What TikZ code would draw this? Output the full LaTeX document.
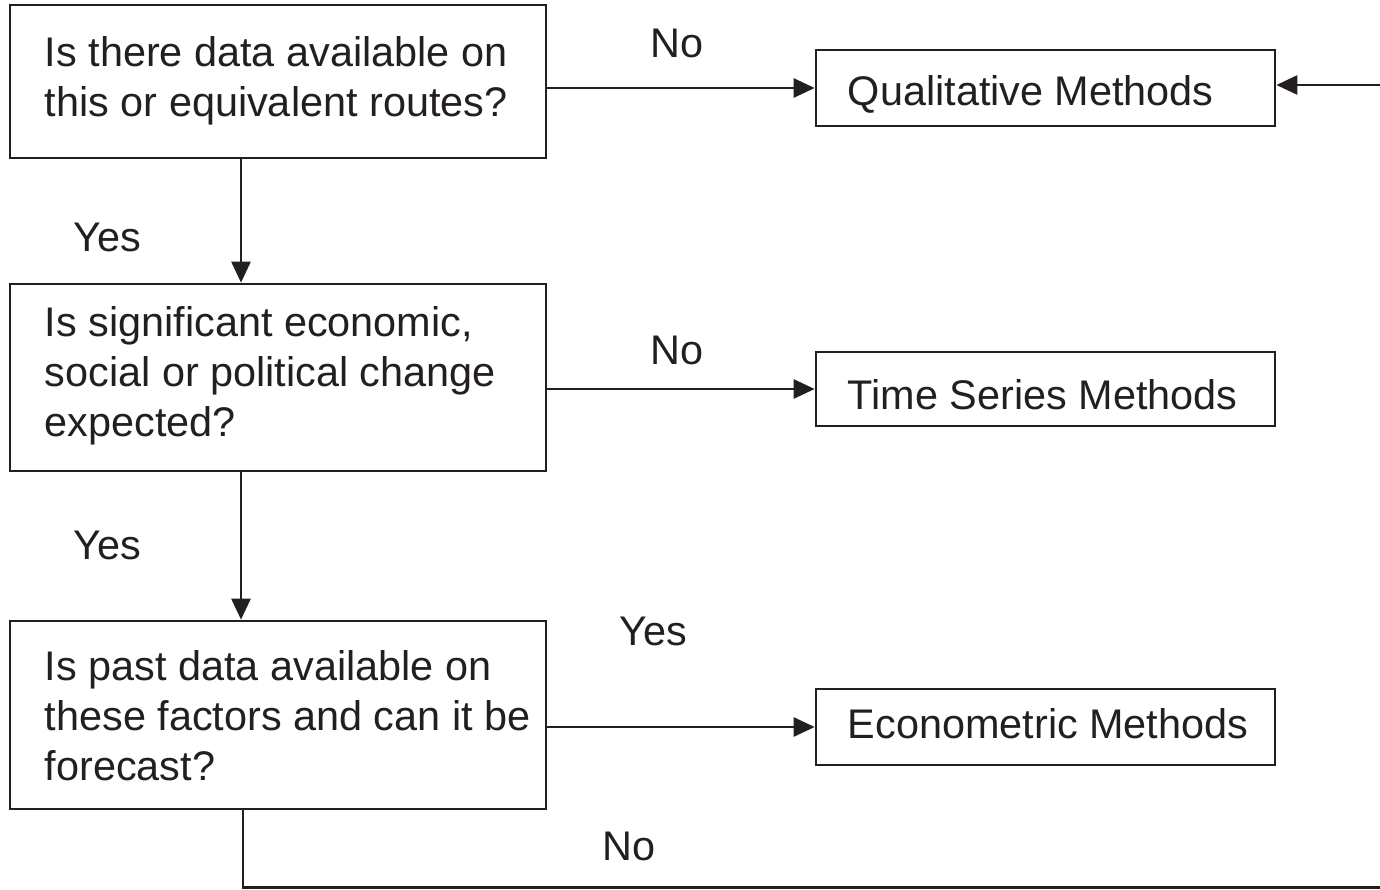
\documentclass[tikz,border=0pt]{standalone}
\usepackage{fontspec}
\setmainfont{Liberation Sans}
\usetikzlibrary{arrows.meta}
\definecolor{ink}{HTML}{231F20}
\begin{document}
\begin{tikzpicture}[x=1pt,y=-1pt,
  every node/.style={font=\fontsize{41.4}{50}\selectfont, text=ink},
  qbox/.style={draw=ink, line width=2.7pt, inner sep=0pt, minimum width=536pt},
  mbox/.style={draw=ink, line width=2.7pt, inner sep=0pt, minimum width=459pt, minimum height=76pt},
  qtext/.style={anchor=west, align=left, inner sep=0pt},
  lbl/.style={inner sep=0pt},
  conn/.style={draw=ink, line width=2.7pt},
  arr/.style={conn, -{Triangle[length=21pt,width=19pt]}}]
\useasboundingbox (0,0) rectangle (1380,889);
\node[qbox, minimum height=153pt] (q1) at (278,81.5) {};
\node[qbox, minimum height=187pt] (q2) at (278,377.5) {};
\node[qbox, minimum height=188pt] (q3) at (278,715) {};
\node[qtext] (t1) at ([xshift=36pt,yshift=1pt]q1.west) {Is there data available on\\this or equivalent routes?};
\node[qtext] (t2) at ([xshift=36pt,yshift=2pt]q2.west) {Is significant economic,\\social or political change\\expected?};
\node[qtext] (t3) at ([xshift=36pt,yshift=-1pt]q3.west) {Is past data available on\\these factors and can it be\\forecast?};
\node[mbox] (m1) at (1045.5,88) {};
\node[mbox, minimum height=74pt] (m2) at (1045.5,389) {};
\node[mbox] (m3) at (1045.5,727) {};
\node[qtext] (u1) at ([xshift=33pt,yshift=-6pt]m1.west) {Qualitative Methods};
\node[qtext] (u2) at ([xshift=33pt,yshift=-6pt]m2.west) {Time Series Methods};
\node[qtext] (u3) at ([xshift=33pt,yshift=3pt]m3.west) {Econometric Methods};
\node[lbl] (n1) at (677,43) {No};
\node[lbl] (y1) at (107,237) {Yes};
\node[lbl] (n2) at (677,350) {No};
\node[lbl] (y2) at (107,545) {Yes};
\node[lbl] (y3) at (653,631) {Yes};
\node[lbl] (n3) at (629,846) {No};
\draw[arr] (m1.west -| q1.east) -- (m1.west);
\draw[arr] (m2.west -| q2.east) -- (m2.west);
\draw[arr] (m3.west -| q3.east) -- (m3.west);
\draw[arr] ([xshift=-37pt]q1.south) -- ([xshift=-37pt]q2.north);
\draw[arr] ([xshift=-37pt]q2.south) -- ([xshift=-37pt]q3.north);
\coordinate (br) at (1380,887.5);
\coordinate (tr) at (1380,85);
\draw[conn] ([xshift=-35pt]q3.south) |- (br);
\draw[arr] (tr) -- (tr -| m1.east);
\end{tikzpicture}
\end{document}
